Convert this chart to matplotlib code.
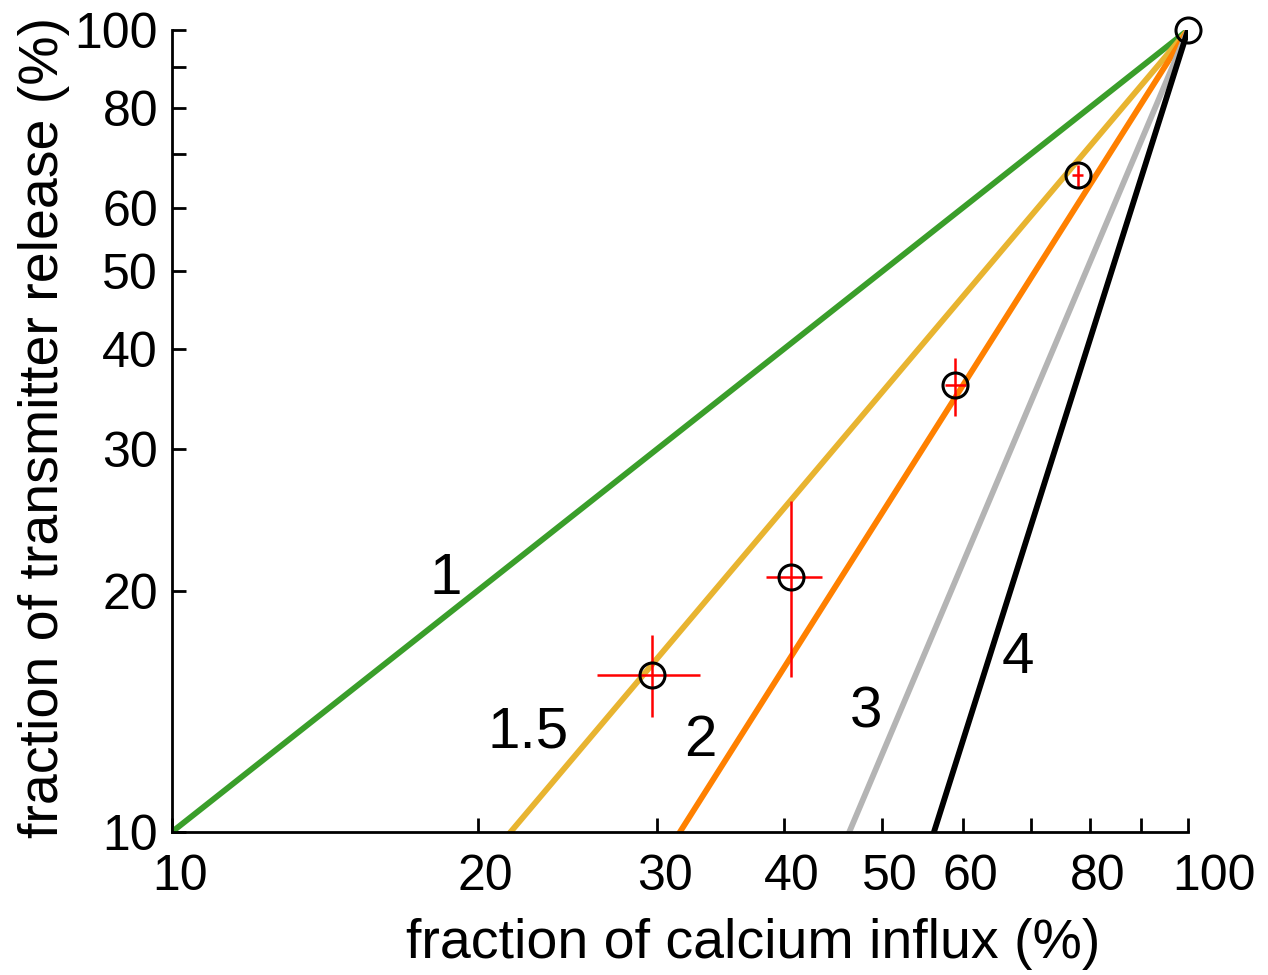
import numpy as np
import matplotlib
matplotlib.use("Agg")
import matplotlib.pyplot as plt
import matplotlib.transforms as mtransforms
from matplotlib.ticker import FixedLocator, NullLocator, NullFormatter

plt.rcParams['font.family'] = ['Liberation Sans', 'DejaVu Sans']

# power-law exponents of the model curves: release = influx ** n
exponents = [1, 1.5, 2, 3, 4]
line_colors = ['#3a9e2a', '#e8b430', '#ff8000', '#b4b4b4', '#000000']
line_labels = ['1', '1.5', '2', '3', '4']
label_pos = [(18.6, 20.7), (22.4, 13.3), (33.1, 13.0), (48.2, 14.1), (68.0, 16.5)]

# measured points (%), with error ranges
ca_influx = [100, 77.9, 59.0, 40.7, 29.7]
release = [100, 65.9, 36.1, 20.8, 15.7]
x_lo = [0, 1.0, 1.3, 2.3, 3.5]
x_hi = [0, 1.0, 1.4, 2.9, 3.4]
y_lo = [0, 2.2, 3.1, 5.2, 1.8]
y_hi = [0, 2.0, 2.9, 5.1, 1.9]

x_ticks = [10, 20, 30, 40, 50, 60, 70, 80, 90, 100]
x_ticklabels = ['10', '20', '30', '40', '50', '60', '', '80', '', '100']
y_ticks = [10, 20, 30, 40, 50, 60, 70, 80, 90, 100]
y_ticklabels = ['10', '20', '30', '40', '50', '60', '', '80', '', '100']

fig = plt.figure(figsize=(12.68, 9.75), dpi=100)
ax = fig.add_axes([0.1356, 0.1467, 0.8013, 0.8225])

xs = np.geomspace(10, 100, 200)
for n, c in zip(exponents, line_colors):
    ax.plot(xs, 100 * (xs / 100) ** n, color=c, lw=4.2, solid_capstyle='round', zorder=2)

for lab, (lx, ly) in zip(line_labels, label_pos):
    ax.text(lx, ly, lab, fontsize=42, ha='center', va='center')

ax.errorbar(ca_influx[1:], release[1:], xerr=[x_lo[1:], x_hi[1:]], yerr=[y_lo[1:], y_hi[1:]],
            fmt='none', ecolor='#ff0000', elinewidth=1.8, capsize=0, zorder=3)
ax.plot(ca_influx, release, 'o', ms=18, mfc='none', mec='black', mew=2.2, zorder=4, clip_on=False)

ax.set_xscale('log')
ax.set_yscale('log')
ax.set_xlim(10, 100)
ax.set_ylim(10, 100)

ax.xaxis.set_major_locator(FixedLocator(x_ticks))
ax.set_xticklabels(x_ticklabels)
ax.yaxis.set_major_locator(FixedLocator(y_ticks))
ax.set_yticklabels(y_ticklabels)
ax.xaxis.set_minor_locator(NullLocator())
ax.yaxis.set_minor_locator(NullLocator())
ax.xaxis.set_minor_formatter(NullFormatter())
ax.yaxis.set_minor_formatter(NullFormatter())
ax.tick_params(direction='in', length=10, width=2, labelsize=36)
ax.tick_params(axis='x', pad=16)
ax.tick_params(axis='y', pad=10)

# x tick labels sit a little right of their ticks in the original
for lbl in ax.get_xticklabels():
    dx = 26 if lbl.get_text() == '100' else 8
    lbl.set_transform(lbl.get_transform() + mtransforms.ScaledTranslation(dx / 100, 0, fig.dpi_scale_trans))

for side in ['top', 'right']:
    ax.spines[side].set_visible(False)
for side in ['left', 'bottom']:
    ax.spines[side].set_linewidth(2)

ax.set_xlabel('fraction of calcium influx (%)', fontsize=40)
ax.xaxis.set_label_coords(0.572, -0.107)
ax.set_ylabel('fraction of transmitter release (%)', fontsize=40)
ax.yaxis.set_label_coords(-0.100, 0.504)

fig.savefig('out.png', dpi=100)
